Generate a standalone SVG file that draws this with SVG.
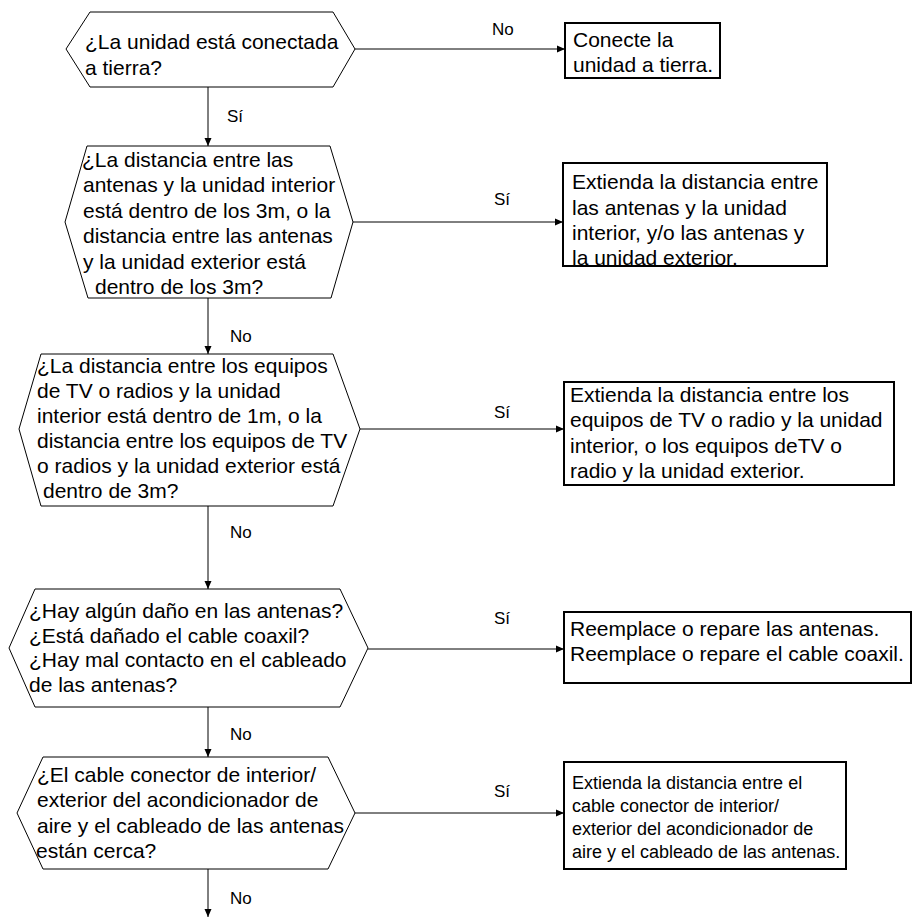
<svg xmlns="http://www.w3.org/2000/svg" width="913" height="918" viewBox="0 0 913 918">
<defs>
<marker id="ah" markerWidth="8" markerHeight="8" refX="8" refY="4" orient="auto" markerUnits="userSpaceOnUse">
<path d="M0,0.5 L8,4 L0,7.5 Z" fill="#000"/>
</marker>
<style>
.hex{fill:#fff;stroke:#000;stroke-width:1}
.box{fill:#fff;stroke:#000;stroke-width:2}
.t{font-family:"Liberation Sans",Arial,sans-serif;font-size:21px;fill:#000}
.s{font-family:"Liberation Sans",Arial,sans-serif;font-size:18px;fill:#000}
.lbl{font-family:"Liberation Sans",Arial,sans-serif;font-size:17px;fill:#000}
.c{fill:none;stroke:#000;stroke-width:1;marker-end:url(#ah)}
</style>
</defs>
<rect width="913" height="918" fill="#fff"/>
<g id="connectors">
<path class="c" d="M208,87 V146"/>
<path class="c" d="M208,298 V354"/>
<path class="c" d="M208,506 V589"/>
<path class="c" d="M208,707 V757"/>
<path class="c" d="M208,869 V917"/>
<path class="c" d="M355,49 H565"/>
<path class="c" d="M353,222 H563"/>
<path class="c" d="M360,429 H564"/>
<path class="c" d="M368,649 H564"/>
<path class="c" d="M355,813 H564"/>
<text class="lbl" x="227" y="122">Sí</text>
<text class="lbl" x="230" y="342">No</text>
<text class="lbl" x="230" y="538">No</text>
<text class="lbl" x="230" y="740">No</text>
<text class="lbl" x="230" y="904">No</text>
<text class="lbl" x="492" y="35">No</text>
<text class="lbl" x="494" y="205">Sí</text>
<text class="lbl" x="494" y="418">Sí</text>
<text class="lbl" x="494" y="624">Sí</text>
<text class="lbl" x="494" y="797">Sí</text>
</g>
<g id="q1">
<polygon class="hex" points="66,49 90,12 333,12 355,49 333,87 90,87"/>
<text class="t" x="85" y="49">¿La unidad está conectada</text>
<text class="t" x="85" y="75">a tierra?</text>
</g>
<g id="a1">
<rect class="box" x="565" y="23" width="155" height="55"/>
<text class="t" x="573" y="47">Conecte la</text>
<text class="t" x="573" y="72">unidad a tierra.</text>
</g>
<g id="q2">
<polygon class="hex" points="65,222 87,146 330,146 353,222 331,298 88,298"/>
<text class="t" x="82" y="167">¿La distancia entre las</text>
<text class="t" x="83" y="192">antenas y la unidad interior</text>
<text class="t" x="83" y="218">está dentro de los 3m, o la</text>
<text class="t" x="83" y="243">distancia entre las antenas</text>
<text class="t" x="83" y="269">y la unidad exterior está</text>
<text class="t" x="95" y="294">dentro de los 3m?</text>
</g>
<g id="a2">
<rect class="box" x="563" y="163" width="264" height="103"/>
<text class="t" x="572" y="189">Extienda la distancia entre</text>
<text class="t" x="572" y="215">las antenas y la unidad</text>
<text class="t" x="572" y="240">interior, y/o las antenas y</text>
<text class="t" x="572" y="265">la unidad exterior.</text>
</g>
<g id="q3">
<polygon class="hex" points="19,429 41,354 333,354 360,429 333,506 41,506"/>
<text class="t" x="37" y="373">¿La distancia entre los equipos</text>
<text class="t" x="37" y="398">de TV o radios y la unidad</text>
<text class="t" x="37" y="423">interior está dentro de 1m, o la</text>
<text class="t" x="37" y="448">distancia entre los equipos de TV</text>
<text class="t" x="37" y="473">o radios y la unidad exterior está</text>
<text class="t" x="43" y="498">dentro de 3m?</text>
</g>
<g id="a3">
<rect class="box" x="564" y="382" width="330" height="103"/>
<text class="t" x="570" y="402">Extienda la distancia entre los</text>
<text class="t" x="570" y="427">equipos de TV o radio y la unidad</text>
<text class="t" x="570" y="453">interior, o los equipos deTV o</text>
<text class="t" x="570" y="478">radio y la unidad exterior.</text>
</g>
<g id="q4">
<polygon class="hex" points="9,648 35,589 340,589 368,648 340,707 35,707"/>
<text class="t" x="29" y="618">¿Hay algún daño en las antenas?</text>
<text class="t" x="29" y="643">¿Está dañado el cable coaxil?</text>
<text class="t" x="29" y="667">¿Hay mal contacto en el cableado</text>
<text class="t" x="29" y="692">de las antenas?</text>
</g>
<g id="a4">
<rect class="box" x="564" y="612" width="347" height="71"/>
<text class="t" x="570" y="636">Reemplace o repare las antenas.</text>
<text class="t" x="570" y="661">Reemplace o repare el cable coaxil.</text>
</g>
<g id="q5">
<polygon class="hex" points="17,813 43,757 328,757 355,813 328,869 43,869"/>
<text class="t" x="37" y="782">¿El cable conector de interior/</text>
<text class="t" x="37" y="807">exterior del acondicionador de</text>
<text class="t" x="37" y="833">aire y el cableado de las antenas</text>
<text class="t" x="36" y="858">están cerca?</text>
</g>
<g id="a5">
<rect class="box" x="564" y="762" width="282" height="107"/>
<text class="s" x="572" y="789">Extienda la distancia entre el</text>
<text class="s" x="572" y="812">cable conector de interior/</text>
<text class="s" x="572" y="835">exterior del acondicionador de</text>
<text class="s" x="572" y="858">aire y el cableado de las antenas.</text>
</g>
</svg>
